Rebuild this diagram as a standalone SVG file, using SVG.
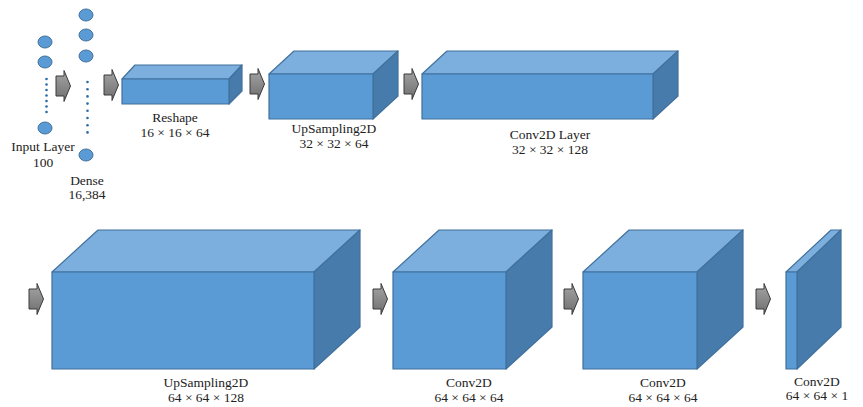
<svg xmlns="http://www.w3.org/2000/svg" width="863" height="407" viewBox="0 0 863 407">
  <style>
    .front { fill: #5b9bd5; stroke: #41719c; stroke-width: 1.2; stroke-linejoin: round; }
    .top { fill: #7cafdd; stroke: #41719c; stroke-width: 1.2; stroke-linejoin: round; }
    .side { fill: #477bab; stroke: #41719c; stroke-width: 1.2; stroke-linejoin: round; }
    .neuron { fill: #5b9bd5; stroke: #41719c; stroke-width: 1; }
    .dot { fill: #2e6ca8; }
    .arrow { fill: url(#arrowFill); stroke: #3a3a3a; stroke-width: 1; stroke-linejoin: miter; }
    text { font-family: "Liberation Serif", "Times New Roman", serif; font-size: 13.5px; fill: #222; text-anchor: middle; }
  </style>
  <defs>
    <linearGradient id="arrowFill" x1="0" y1="0" x2="0" y2="1">
      <stop offset="0" stop-color="#a6a6a6"/>
      <stop offset="1" stop-color="#6e6e6e"/>
    </linearGradient>
    <!-- block arrow, origin at left edge / vertical centre -->
    <path id="blockArrow" d="M0,-10 H8 V-15.5 L14.5,0 L8,15.5 V10 H0 Z"/>
  </defs>

  <rect width="863" height="407" fill="#ffffff"/>

  <!-- input layer neurons -->
  <g id="input-layer">
    <ellipse class="neuron" cx="45" cy="42" rx="7" ry="6"/>
    <ellipse class="neuron" cx="45" cy="62" rx="7" ry="6"/>
    <circle class="dot" cx="46.5" cy="79" r="1.3"/>
    <circle class="dot" cx="46.5" cy="84.5" r="1.3"/>
    <circle class="dot" cx="46.5" cy="90" r="1.3"/>
    <circle class="dot" cx="46.5" cy="95.5" r="1.3"/>
    <circle class="dot" cx="46.5" cy="101" r="1.3"/>
    <circle class="dot" cx="46.5" cy="106.5" r="1.3"/>
    <circle class="dot" cx="46.5" cy="112" r="1.3"/>
    <ellipse class="neuron" cx="45" cy="128" rx="7" ry="6"/>
    <text x="43" y="151">Input Layer</text>
    <text x="43" y="167">100</text>
  </g>

  <!-- dense layer neurons -->
  <g id="dense">
    <ellipse class="neuron" cx="86" cy="15" rx="7" ry="6"/>
    <ellipse class="neuron" cx="86" cy="35" rx="7" ry="6"/>
    <ellipse class="neuron" cx="86" cy="56" rx="7" ry="6"/>
    <circle class="dot" cx="87.5" cy="82" r="1.3"/>
    <circle class="dot" cx="87.5" cy="89.2" r="1.3"/>
    <circle class="dot" cx="87.5" cy="96.4" r="1.3"/>
    <circle class="dot" cx="87.5" cy="103.6" r="1.3"/>
    <circle class="dot" cx="87.5" cy="110.8" r="1.3"/>
    <circle class="dot" cx="87.5" cy="118" r="1.3"/>
    <circle class="dot" cx="87.5" cy="125.2" r="1.3"/>
    <circle class="dot" cx="87.5" cy="132.4" r="1.3"/>
    <ellipse class="neuron" cx="86" cy="155" rx="7" ry="6"/>
    <text x="87" y="185">Dense</text>
    <text x="87" y="199">16,384</text>
  </g>

  <!-- reshape block -->
  <g id="reshape">
    <polygon class="top" points="122,79 135,65 242,65 229,79"/>
    <polygon class="side" points="229,79 242,65 242,91 229,104"/>
    <rect class="front" x="122" y="79" width="107" height="25"/>
    <text x="175" y="122">Reshape</text>
    <text x="175" y="137">16 × 16 × 64</text>
  </g>

  <!-- upsampling 32x32 block -->
  <g id="upsampling-32">
    <polygon class="top" points="269,74 294,51 398,51 373,74"/>
    <polygon class="side" points="373,74 398,51 398,96 373,119"/>
    <rect class="front" x="269" y="74" width="104" height="45"/>
    <text x="334" y="133">UpSampling2D</text>
    <text x="334" y="148">32 × 32 × 64</text>
  </g>

  <!-- conv2d 32x32x128 block -->
  <g id="conv2d-32">
    <polygon class="top" points="422,74 447,51 678,51 653,74"/>
    <polygon class="side" points="653,74 678,51 678,96 653,119"/>
    <rect class="front" x="422" y="74" width="231" height="45"/>
    <text x="550" y="139">Conv2D Layer</text>
    <text x="550" y="154">32 × 32 × 128</text>
  </g>

  <!-- upsampling 64x64 block -->
  <g id="upsampling-64">
    <polygon class="top" points="52,272 98,230 360,230 314,272"/>
    <polygon class="side" points="314,272 360,230 360,327 314,369"/>
    <rect class="front" x="52" y="272" width="262" height="97"/>
    <text x="206" y="387">UpSampling2D</text>
    <text x="206" y="402">64 × 64 × 128</text>
  </g>

  <!-- conv2d 64x64x64 blocks -->
  <g id="conv2d-64a">
    <polygon class="top" points="393,272 439,230 552,230 506,272"/>
    <polygon class="side" points="506,272 552,230 552,327 506,369"/>
    <rect class="front" x="393" y="272" width="113" height="97"/>
    <text x="469" y="387">Conv2D</text>
    <text x="469" y="402">64 × 64 × 64</text>
  </g>

  <g id="conv2d-64b">
    <polygon class="top" points="583,272 629,230 743,230 697,272"/>
    <polygon class="side" points="697,272 743,230 743,327 697,369"/>
    <rect class="front" x="583" y="272" width="114" height="97"/>
    <text x="663" y="387">Conv2D</text>
    <text x="663" y="402">64 × 64 × 64</text>
  </g>

  <!-- output conv2d 64x64x1 -->
  <g id="conv2d-out">
    <polygon class="top" points="786,272 831,230 841,230 797,272"/>
    <polygon class="side" points="797,272 841,230 841,327 797,369"/>
    <rect class="front" x="786" y="272" width="11" height="97"/>
    <text x="817" y="386">Conv2D</text>
    <text x="817" y="400">64 × 64 × 1</text>
  </g>

  <!-- connectors -->
  <g id="connectors">
    <use href="#blockArrow" class="arrow" x="56" y="86"/>
    <use href="#blockArrow" class="arrow" x="104" y="85"/>
    <use href="#blockArrow" class="arrow" x="250" y="84"/>
    <use href="#blockArrow" class="arrow" x="404" y="84"/>
    <use href="#blockArrow" class="arrow" x="29" y="299"/>
    <use href="#blockArrow" class="arrow" x="373" y="299"/>
    <use href="#blockArrow" class="arrow" x="564" y="299"/>
    <use href="#blockArrow" class="arrow" x="756" y="299"/>
  </g>
</svg>
